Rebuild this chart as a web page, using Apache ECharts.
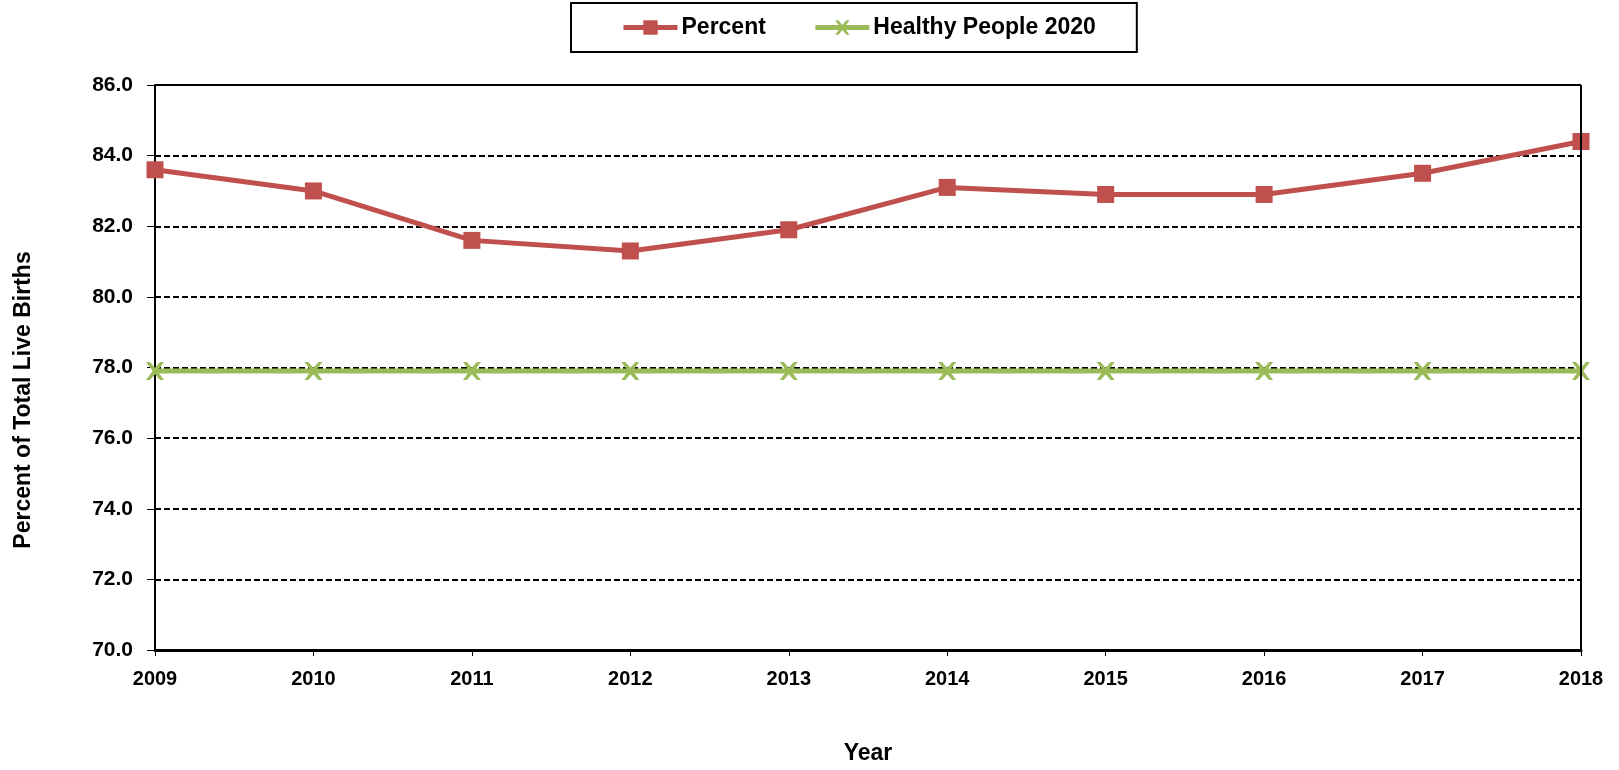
<!DOCTYPE html>
<html><head><meta charset="utf-8">
<script src="https://cdn.jsdelivr.net/npm/echarts@6/dist/echarts.min.js"></script>
<style>html,body{margin:0;padding:0;background:#fff}#c{width:1619px;height:770px}</style>
</head><body><div id="c"></div>
<script>
const years = ['2009','2010','2011','2012','2013','2014','2015','2016','2017','2018'];
const percent = [83.6, 83.0, 81.6, 81.3, 81.9, 83.1, 82.9, 82.9, 83.5, 84.4];
const healthyPeople = [77.9, 77.9, 77.9, 77.9, 77.9, 77.9, 77.9, 77.9, 77.9, 77.9];
const yTicks = [70, 72, 74, 76, 78, 80, 82, 84, 86];

const font = 'Liberation Sans, Arial, sans-serif';
const crossPath = 'path://M0,0 L2.2,0 L5,3.2 L7.8,0 L10,0 L6.3,5 L10,10 L7.8,10 L5,6.8 L2.2,10 L0,10 L3.7,5 Z';
const chart = echarts.init(document.getElementById('c'));
chart.setOption({
  animation: false,
  textStyle: { fontFamily: font },
  legend: {
    top: 3, left: 571,
    padding: [13, 41, 13, 50],
    borderColor: '#000', borderWidth: 2,
    itemGap: 47, itemWidth: 54, itemHeight: 18,
    textStyle: { fontFamily: font, fontSize: 23, fontWeight: 'bold', color: '#000', padding: [0, 0, 0, -1] },
    data: [
      { name: 'Percent', lineStyle: { width: 5 } },
      { name: 'Healthy People 2020', lineStyle: { width: 5 } }
    ]
  },
  grid: { left: 155, right: 38, top: 85, bottom: 110, containLabel: false },
  xAxis: {
    type: 'category', data: years, boundaryGap: false,
    name: 'Year', nameLocation: 'middle', nameGap: 92,
    nameTextStyle: { fontFamily: font, fontSize: 23, fontWeight: 'bold', color: '#000' },
    axisLine: { lineStyle: { color: '#000', width: 3 } },
    axisTick: { show: true, alignWithLabel: true, lineStyle: { color: '#000', width: 1 }, length: 6 },
    axisLabel: { fontFamily: font, fontSize: 20, fontWeight: 'bold', color: '#000', margin: 19 },
    splitLine: { show: false }
  },
  yAxis: {
    type: 'value', min: 70, max: 86, interval: 2,
    axisLine: { show: true, lineStyle: { color: '#000', width: 2 } },
    axisTick: { show: true, lineStyle: { color: '#000', width: 1 }, length: 8 },
    axisLabel: { fontFamily: font, fontSize: 21, fontWeight: 'bold', color: '#000', margin: 22,
      formatter: v => yTicks.includes(v) ? v.toFixed(1) : '' },
    splitLine: { show: true, lineStyle: { color: '#000', width: 2, type: [6, 3] } }
  },
  graphic: [{
    type: 'text', x: 24, y: 400, rotation: Math.PI / 2,
    style: { text: 'Percent of Total Live Births', font: 'bold 23px ' + font, fill: '#000',
      align: 'center', verticalAlign: 'middle' }
  }],
  series: [
    {
      name: 'Percent', type: 'line', data: percent,
      symbol: 'rect', symbolSize: 17,
      lineStyle: { color: '#C0504D', width: 5 },
      itemStyle: { color: '#C0504D' }, z: 3
    },
    {
      name: 'Healthy People 2020', type: 'line', data: healthyPeople,
      symbol: crossPath, symbolSize: 18,
      lineStyle: { color: '#9BBB59', width: 5 },
      itemStyle: { color: '#9BBB59' }, z: 2
    },
    {
      name: 'frame', type: 'line', data: [],
      markLine: {
        silent: true, symbol: 'none', label: { show: false },
        lineStyle: { color: '#000', width: 2, type: 'solid' },
        data: [ { yAxis: 86 }, { xAxis: '2018' } ]
      }
    }
  ]
});
</script></body></html>
